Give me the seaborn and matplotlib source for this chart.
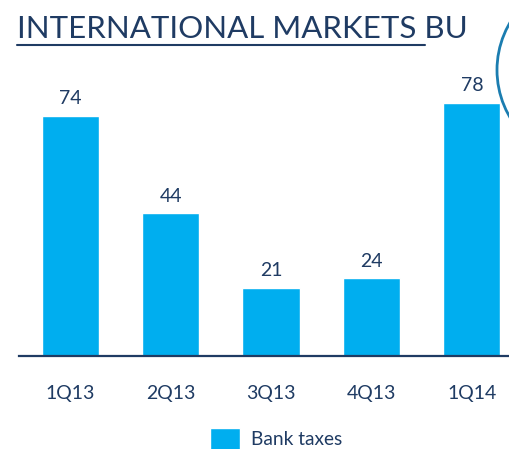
import matplotlib
matplotlib.use("Agg")
import matplotlib.pyplot as plt
import seaborn as sns
import pandas as pd
from matplotlib.patches import Circle

categories = ["1Q13", "2Q13", "3Q13", "4Q13", "1Q14"]
values = [74, 44, 21, 24, 78]
series_name = "Bank taxes"
title = "INTERNATIONAL MARKETS BU"

sns.set_theme(style="white")
plt.rcParams['font.family'] = ['Lato', 'DejaVu Sans']

BAR = "#00AEEF"
DARK = "#1F3B63"

W, H = 510, 449
fig = plt.figure(figsize=(W / 100, H / 100), dpi=100)
ax = fig.add_axes([19 / W, 1 - 356 / H, (510 - 19) / W, (356 - 60) / H])

df = pd.DataFrame({"q": categories, "v": values})
sns.barplot(data=df, x="q", y="v", color=BAR, width=0.57, ax=ax,
            saturation=1, label=series_name)
ax.set_xlim(-0.51, 4.38)
ax.set_ylim(0, (356 - 60) / 3.25)

for i, v in enumerate(values):
    ax.text(i, v + 2.6, str(v), ha="center", va="bottom", fontsize=14, color=DARK)

for s in ["top", "right", "left"]:
    ax.spines[s].set_visible(False)
ax.spines["bottom"].set_color(DARK)
ax.spines["bottom"].set_linewidth(1.6)
ax.set_yticks([])
ax.set_xlabel("")
ax.set_ylabel("")
ax.tick_params(axis="x", length=0, pad=21, labelsize=14, labelcolor=DARK)
if ax.get_legend():
    ax.get_legend().remove()

handles, labels = ax.get_legend_handles_labels()
fig.legend(handles, labels, loc="center", bbox_to_anchor=(276 / W, 1 - 439 / H),
           frameon=False, fontsize=13.8, labelcolor=DARK, handlelength=1.6,
           handleheight=1.4, handletextpad=0.55, borderpad=0)

fig.text(17 / W, 1 - 38 / H, title, fontsize=22.5, color=DARK, ha="left", va="baseline")
fig.add_artist(plt.Line2D([17 / W, 425 / W], [1 - 44.5 / H, 1 - 44.5 / H],
                          color=DARK, linewidth=1.5, transform=fig.transFigure))

circ = Circle((590, H - 70), 93, transform=None, fill=False, edgecolor="#1B7DB0",
              linewidth=2)
fig.add_artist(circ)

fig.savefig("out.png", dpi=100)
